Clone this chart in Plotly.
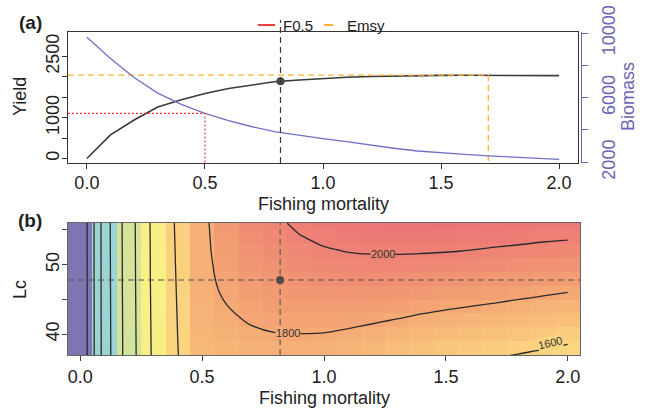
import numpy as np
import plotly.graph_objects as go
from plotly.colors import sample_colorscale

W, H = 645, 409
FONT = "Liberation Sans, Arial, sans-serif"
INK = "#222222"
BLUE = "#6a64b4"
BLUE_LINE = "#7070c8"
TICK_SIZE = 18

# ---------------- data ----------------
fishing_mortality = [0.0, 0.1, 0.2, 0.3, 0.4, 0.5, 0.6, 0.7, 0.8, 0.9, 1.0,
                     1.1, 1.2, 1.3, 1.4, 1.5, 1.6, 1.7, 1.8, 1.9, 2.0]
yield_curve = [0, 578, 944, 1260, 1440, 1595, 1715, 1800, 1885, 1925, 1960,
               1990, 2010, 2023, 2031, 2036, 2040, 2042, 2040, 2036, 2030]
biomass_curve = [9740, 8420, 7250, 6280, 5580, 5030, 4580, 4200, 3880, 3650, 3460,
                 3275, 3060, 2870, 2700, 2580, 2490, 2400, 2320, 2250, 2186]

f_05 = 0.5          # F0.5 reference point
f_msy = 1.7         # Fmsy reference point
f_current = 0.82    # current fishing mortality
lc_current = 47.8   # current length at first capture

legend_labels = ["F0.5", "Emsy"]

# yield isopleth grid: rows = Lc, columns = fishing mortality
lc_grid = [36, 38, 40, 42, 44, 46, 48, 50, 52, 54, 56]
yield_by_f = {
    0.0: [0, 0, 0, 0, 0, 0, 0, 0, 0, 0, 0],
    0.1: [695, 696, 697, 698, 699, 700, 701, 702, 703, 704, 705],
    0.2: [1104, 1105, 1106, 1107, 1108, 1110, 1111, 1112, 1113, 1114, 1115],
    0.3: [1428, 1430, 1432, 1434, 1436, 1438, 1440, 1441, 1442, 1443, 1445],
    0.4: [1595, 1598, 1601, 1604, 1607, 1610, 1613, 1616, 1619, 1622, 1625],
    0.5: [1715, 1730, 1745, 1755, 1762, 1768, 1770, 1770, 1771, 1771, 1772],
    0.6: [1730, 1748, 1765, 1782, 1798, 1813, 1826, 1838, 1850, 1860, 1870],
    0.7: [1740, 1765, 1785, 1808, 1830, 1852, 1873, 1893, 1912, 1930, 1948],
    0.8: [1750, 1775, 1797, 1825, 1848, 1870, 1893, 1916, 1938, 1958, 1978],
    0.9: [1743, 1771, 1799, 1827, 1855, 1883, 1911, 1939, 1967, 1995, 2023],
    1.0: [1732, 1765, 1797, 1829, 1861, 1893, 1926, 1958, 1990, 2022, 2050],
    1.1: [1713, 1749, 1785, 1822, 1858, 1895, 1931, 1967, 2004, 2036, 2065],
    1.2: [1690, 1730, 1770, 1810, 1850, 1890, 1930, 1970, 2010, 2045, 2075],
    1.3: [1667, 1710, 1753, 1796, 1839, 1882, 1925, 1968, 2011, 2048, 2080],
    1.4: [1641, 1687, 1733, 1779, 1825, 1871, 1917, 1963, 2009, 2048, 2080],
    1.5: [1619, 1667, 1716, 1764, 1812, 1860, 1908, 1957, 2005, 2045, 2078],
    1.6: [1602, 1652, 1701, 1751, 1800, 1849, 1899, 1948, 1998, 2040, 2075],
    1.7: [1587, 1637, 1688, 1738, 1788, 1838, 1888, 1938, 1988, 2033, 2068],
    1.8: [1570, 1621, 1672, 1723, 1774, 1826, 1877, 1928, 1980, 2026, 2062],
    1.9: [1553, 1605, 1657, 1709, 1761, 1813, 1865, 1917, 1969, 2018, 2055],
    2.0: [1530, 1586, 1640, 1693, 1747, 1800, 1853, 1907, 1960, 2012, 2048],
}
contour_levels = (200, 2000, 200)
contour_labels = [("1800", 0.853, 40.15, 0), ("2000", 1.24, 51.5, 0), ("1600", 1.925, 38.75, -13)]

# colour ramp by yield value
zmax = 2100
color_stops = [(0, "#7e75b1"), (700, "#9dd3d5"), (1110, "#d5e39b"), (1440, "#f8ef85"),
               (1610, "#fbd280"), (1770, "#f6b077"), (1840, "#f2a073"), (1953, "#ef8a74"),
               (2100, "#ec7078")]
colorscale = [[v / zmax, c] for v, c in color_stops]

z = np.array([yield_by_f[f] for f in fishing_mortality]).T

# ---------------- helpers ----------------
def px(xp):
    return xp / W

def py(yp):
    return 1 - yp / H

xa_range = [-0.08, 2.08]
ya_range = [-110, 3100]
yb_range = [1957, 10062]
xb_range = [-0.05, 2.05]
lcb_range = [37, 56]

y_msy = yield_curve[fishing_mortality.index(f_msy)]
b_05 = biomass_curve[fishing_mortality.index(f_05)]
y_current = float(np.interp(f_current, fishing_mortality, yield_curve))

fig = go.Figure()

# ---------------- panel (a) ----------------
fig.add_trace(go.Scatter(x=fishing_mortality, y=biomass_curve, mode="lines", yaxis="y3",
                         line=dict(color=BLUE_LINE, width=1.3), showlegend=False))
fig.add_trace(go.Scatter(x=[xa_range[0], f_05, f_05], y=[b_05, b_05, yb_range[0]], mode="lines",
                         yaxis="y3", line=dict(color="#f03c3c", width=1.2, dash="2px,2px"),
                         showlegend=False))
fig.add_trace(go.Scatter(x=fishing_mortality, y=yield_curve, mode="lines",
                         line=dict(color="#3a3a3a", width=1.6), showlegend=False))
fig.add_trace(go.Scatter(x=[xa_range[0], f_msy, f_msy], y=[y_msy, y_msy, ya_range[0]], mode="lines",
                         line=dict(color="#ffb22e", width=1.3, dash="6px,4px"), showlegend=False))
fig.add_trace(go.Scatter(x=[f_current], y=[y_current], mode="markers",
                         marker=dict(color="#454545", size=8), showlegend=False))

# ---------------- panel (b) ----------------
fig.add_trace(go.Heatmap(x=fishing_mortality, y=lc_grid, z=z, colorscale=colorscale,
                         zmin=0, zmax=zmax, showscale=False, xaxis="x2", yaxis="y2",
                         hoverinfo="skip"))
fig.add_trace(go.Contour(x=fishing_mortality, y=lc_grid, z=z, xaxis="x2", yaxis="y2",
                         contours=dict(start=contour_levels[0], end=contour_levels[1],
                                       size=contour_levels[2], coloring="none"),
                         line=dict(color="#2a2a2a", width=1.3), showscale=False,
                         hoverinfo="skip"))
fig.add_trace(go.Scatter(x=[f_current], y=[lc_current], mode="markers", xaxis="x2", yaxis="y2",
                         marker=dict(color="#4a4a4a", size=8), showlegend=False))

shapes = [
    # current F, panel (a)
    dict(type="line", xref="x", yref="paper", x0=f_current, x1=f_current,
         y0=py(163), y1=py(20), line=dict(color="#3a3a3a", width=1.2, dash="6px,4px")),
    # current F and Lc, panel (b)
    dict(type="line", xref="x2", yref="y2 domain", x0=f_current, x1=f_current, y0=0, y1=1,
         line=dict(color="#555555", width=1.1, dash="6px,4px")),
    dict(type="line", xref="x2 domain", yref="y2", x0=0, x1=1, y0=lc_current, y1=lc_current,
         line=dict(color="#555555", width=1.1, dash="6px,4px")),
    # legend keys
    dict(type="line", xref="paper", yref="paper", x0=px(258), x1=px(275), y0=py(25), y1=py(25),
         line=dict(color="#f03c3c", width=2)),
    dict(type="line", xref="paper", yref="paper", x0=px(324), x1=px(333), y0=py(25), y1=py(25),
         line=dict(color="#ffb22e", width=2)),
]

annotations = [
    dict(text="<b>(a)</b>", x=px(30), y=py(22), font=dict(size=19)),
    dict(text="<b>(b)</b>", x=px(30), y=py(220), font=dict(size=19)),
    dict(text="Yield", x=px(20), y=py(97), textangle=-90),
    dict(text="Biomass", x=px(628), y=py(97), textangle=-90, font=dict(color=BLUE)),
    dict(text="Fishing mortality", x=px(323), y=py(204)),
    dict(text="Fishing mortality", x=px(324), y=py(398)),
    dict(text="Lc", x=px(20), y=py(290), textangle=-90),
    dict(text=legend_labels[0], x=px(281), y=py(26), xanchor="left", font=dict(size=15)),
    dict(text=legend_labels[1], x=px(345), y=py(26), xanchor="left", font=dict(size=15)),
]
for ann in annotations:
    ann.setdefault("xref", "paper")
    ann.setdefault("yref", "paper")
    ann.setdefault("showarrow", False)
    ann.setdefault("xanchor", "center")
    ann.setdefault("yanchor", "middle")
    f = dict(family=FONT, size=18, color=INK)
    f.update(ann.get("font", {}))
    ann["font"] = f

for text, fx, lc, ang in contour_labels:
    bg = sample_colorscale(colorscale, [float(text) / zmax])[0]
    annotations.append(dict(text=text, x=fx, y=lc, xref="x2", yref="y2", showarrow=False,
                            textangle=ang, bgcolor=bg, borderpad=0,
                            font=dict(family=FONT, size=11, color="#333333")))

axis_common = dict(showgrid=False, zeroline=False, ticks="outside", ticklen=5,
                   automargin=False, tickfont=dict(family=FONT, size=TICK_SIZE, color=INK))

fig.update_layout(
    width=W, height=H, margin=dict(l=0, r=0, t=0, b=0, pad=0, autoexpand=False),
    paper_bgcolor="white", plot_bgcolor="white", showlegend=False,
    font=dict(family=FONT, color=INK),
    xaxis=dict(domain=[px(68), px(578)], range=xa_range, anchor="y",
               tickvals=[0, 0.5, 1, 1.5, 2], ticktext=["0.0", "0.5", "1.0", "1.5", "2.0"],
               showline=True, mirror=True, linecolor="#333333", tickcolor="#333333",
               ticklabelstandoff=-2, **axis_common),
    yaxis=dict(domain=[py(163), py(32)], range=ya_range, anchor="x",
               tickvals=[0, 500, 1000, 1500, 2000, 2500],
               ticktext=["0", "", "1000", "", "", "2500"], tickangle=-90,
               showline=True, mirror=True, linecolor="#333333", tickcolor="#333333",
               ticklabelstandoff=-4, **axis_common),
    yaxis3=dict(overlaying="y", side="right", anchor="free", position=px(581), range=yb_range,
                tickvals=[2000, 4000, 6000, 8000, 10000],
                ticktext=["2000", "", "6000", "", "10000"], tickangle=-90,
                showline=True, linecolor=BLUE, tickcolor=BLUE, ticklabelstandoff=5,
                showgrid=False, zeroline=False, ticks="outside", ticklen=6, automargin=False,
                tickfont=dict(family=FONT, size=TICK_SIZE, color=BLUE)),
    xaxis2=dict(domain=[px(68), px(580)], range=xb_range, anchor="y2",
                tickvals=[0, 0.5, 1, 1.5, 2], ticktext=["0.0", "0.5", "1.0", "1.5", "2.0"],
                showline=True, mirror=True, linecolor="#666666", tickcolor="#444444",
                ticklabelstandoff=0, **axis_common),
    yaxis2=dict(domain=[py(355), py(223)], range=lcb_range, anchor="x2",
                tickvals=[40, 45, 50, 55], ticktext=["40", "", "50", ""], tickangle=-90,
                showline=True, mirror=True, linecolor="#666666", tickcolor="#444444",
                ticklabelstandoff=-4, **axis_common),
    shapes=shapes,
    annotations=annotations,
)

fig.write_html("out.html")
